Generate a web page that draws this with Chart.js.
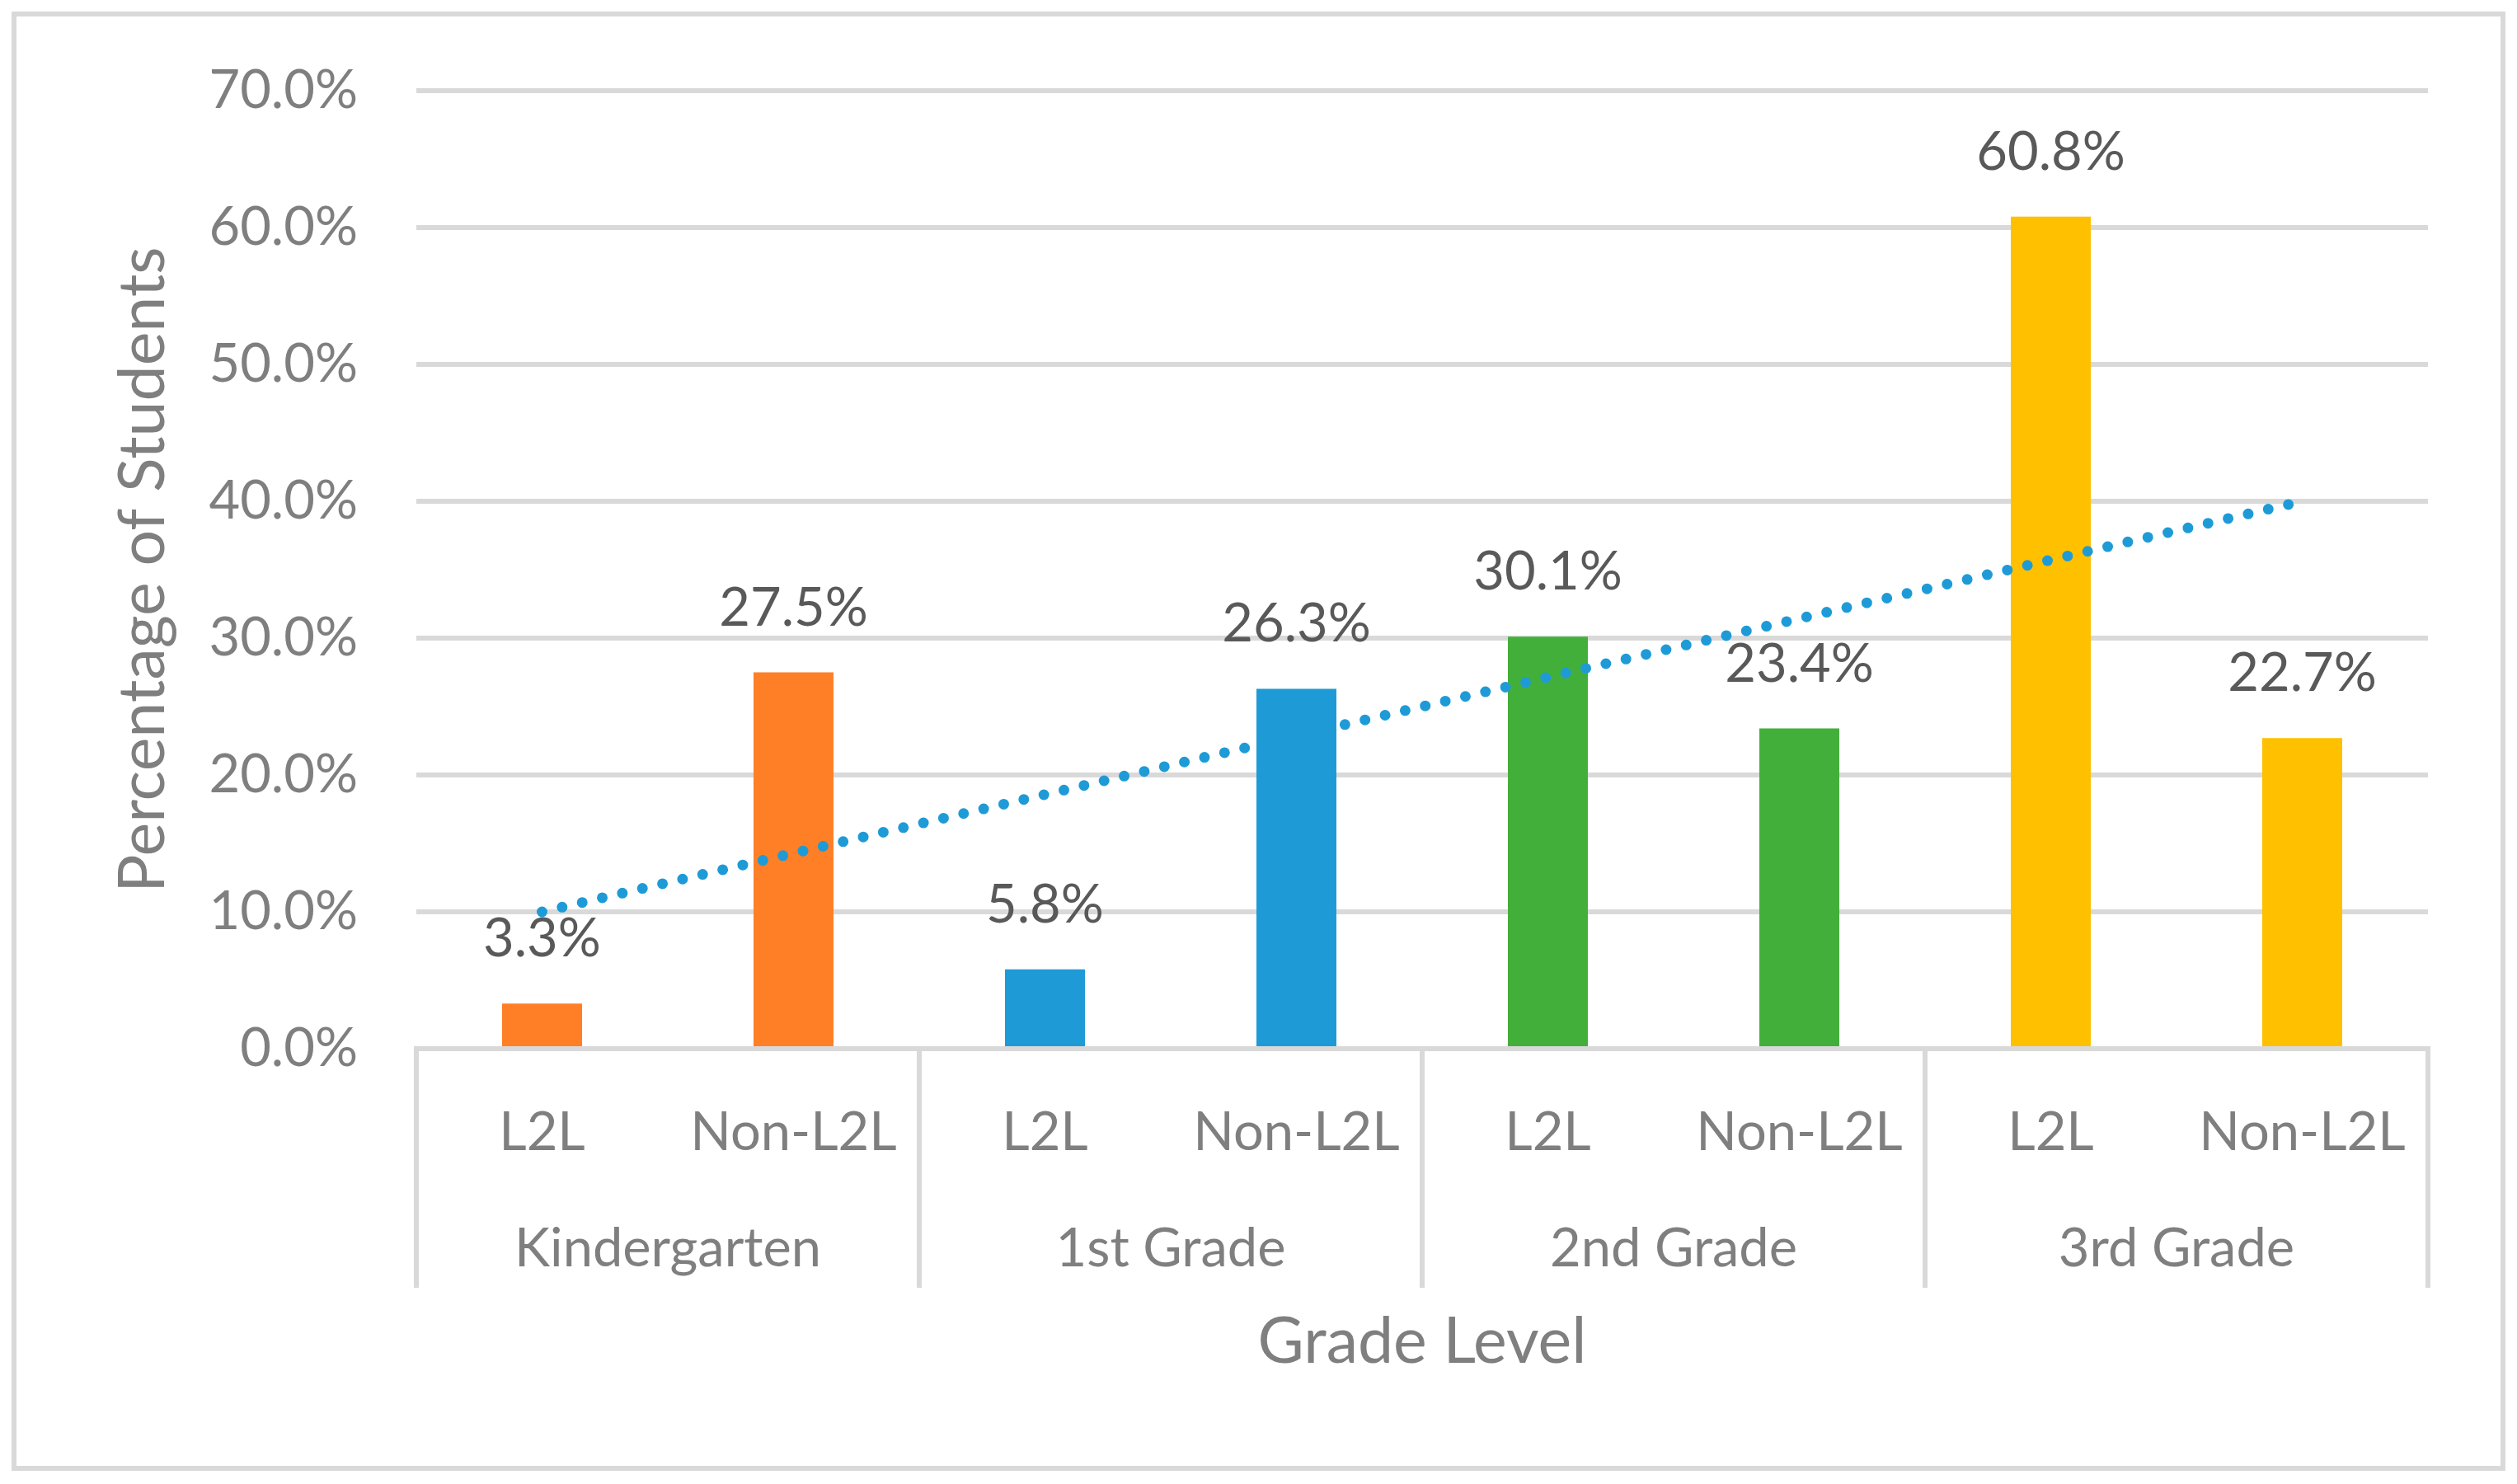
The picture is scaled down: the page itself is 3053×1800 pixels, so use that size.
<!DOCTYPE html>
<html>
<head>
<meta charset="utf-8">
<script src="https://cdn.jsdelivr.net/npm/chart.js@4.4.0/dist/chart.umd.min.js"></script>
<style>
html, body { margin: 0; padding: 0; background: #fff; overflow: hidden; }
#frame { position: absolute; left: 14px; top: 14px; width: 3013px; height: 1758px; border: 6px solid #d9d9d9; }
canvas { position: absolute; left: 0; top: 0; }
</style>
</head>
<body>
<div id="frame"></div>
<canvas id="gradeChart" width="3053" height="1800"></canvas>
<script>
// data
const categories = ['L2L', 'Non-L2L', 'L2L', 'Non-L2L', 'L2L', 'Non-L2L', 'L2L', 'Non-L2L']
const grades = ['Kindergarten', '1st Grade', '2nd Grade', '3rd Grade']
const percentValues = [3.3, 27.5, 5.8, 26.3, 30.1, 23.4, 60.8, 22.7]
// linear trendline ends (as drawn in the picture), middle points left empty
const trendValues = [10.0, null, null, null, null, null, null, 40.0]

const yTitle = 'Percentage of Students'
const xTitle = 'Grade Level'

const gradeColors = ['#FF7F27', '#1E9BD7', '#43AF3B', '#FFC000']
const gridGray = '#d9d9d9'
const tickGray = '#7f7f7f'
const labelGray = '#595959'
const fontFamily = 'Lato'

const valueLabels = {
    id: 'valueLabels',
    afterDatasetsDraw(chart) {
        const c = chart.ctx
        const meta = chart.getDatasetMeta(0)
        c.save()
        c.font = '65px ' + fontFamily
        c.fillStyle = labelGray
        c.textAlign = 'center'
        c.textBaseline = 'alphabetic'
        meta.data.forEach((bar, i) => {
            c.fillText(percentValues[i].toFixed(1) + '%', bar.x, bar.y - 57)
        })
        c.restore()
    }
}

// second level of the category axis: grade names and the divider lines
const groupAxis = {
    id: 'groupAxis',
    afterDraw(chart) {
        const c = chart.ctx
        const x = chart.scales.x
        const area = chart.chartArea
        const half = (x.getPixelForTick(1) - x.getPixelForTick(0)) / 2
        c.save()
        c.strokeStyle = gridGray
        c.lineWidth = 6
        for (let g = 0; g <= grades.length; g++) {
            const px = g < grades.length
                ? x.getPixelForTick(g * 2) - half
                : x.getPixelForTick(g * 2 - 1) + half
            c.beginPath()
            c.moveTo(px, area.bottom - 3)
            c.lineTo(px, area.bottom + 290)
            c.stroke()
        }
        c.font = '65px ' + fontFamily
        c.fillStyle = tickGray
        c.textAlign = 'center'
        c.textBaseline = 'alphabetic'
        grades.forEach((g, i) => {
            const px = (x.getPixelForTick(i * 2) + x.getPixelForTick(i * 2 + 1)) / 2
            c.fillText(g, px, area.bottom + 264)
        })
        c.restore()
    }
}

const ctx = document.getElementById('gradeChart').getContext('2d')

new Chart(ctx, {
    type: 'bar',
    data: {
        labels: categories,
        datasets: [{
            type: 'bar',
            data: percentValues,
            backgroundColor: percentValues.map((v, i) => gradeColors[Math.floor(i / 2)]),
            barPercentage: 0.318,
            categoryPercentage: 1,
            order: 1
        }, {
            type: 'line',
            data: trendValues,
            borderColor: '#1E9BD7',
            borderWidth: 13,
            borderDash: [0, 25],
            borderCapStyle: 'round',
            pointRadius: 0,
            spanGaps: true,
            fill: false,
            order: 0
        }]
    },
    options: {
        responsive: false,
        devicePixelRatio: 1,
        animation: false,
        layout: {
            padding: { left: 20, right: 108, top: 108, bottom: 20 }
        },
        plugins: {
            legend: { display: false },
            tooltip: { enabled: false }
        },
        scales: {
            y: {
                min: 0,
                max: 70,
                ticks: {
                    stepSize: 10,
                    padding: 71,
                    color: tickGray,
                    font: { family: fontFamily, size: 65 },
                    callback: (v) => v.toFixed(1) + '%'
                },
                grid: { color: gridGray, lineWidth: 6, drawTicks: false },
                border: { display: false },
                title: {
                    display: true,
                    text: yTitle,
                    color: tickGray,
                    font: { family: fontFamily, size: 77 },
                    padding: { top: 108, bottom: 0 }
                },
                afterFit: (s) => { s.width = 485 }
            },
            x: {
                offset: true,
                ticks: {
                    padding: 55,
                    color: tickGray,
                    font: { family: fontFamily, size: 65 },
                    maxRotation: 0
                },
                grid: { display: false },
                border: { display: true, color: gridGray, width: 6 },
                title: {
                    display: true,
                    text: xTitle,
                    color: tickGray,
                    font: { family: fontFamily, size: 77 },
                    padding: { top: 0, bottom: 106 }
                },
                afterFit: (s) => { s.height = 508 }
            }
        }
    },
    plugins: [valueLabels, groupAxis]
})
</script>
</body>
</html>
